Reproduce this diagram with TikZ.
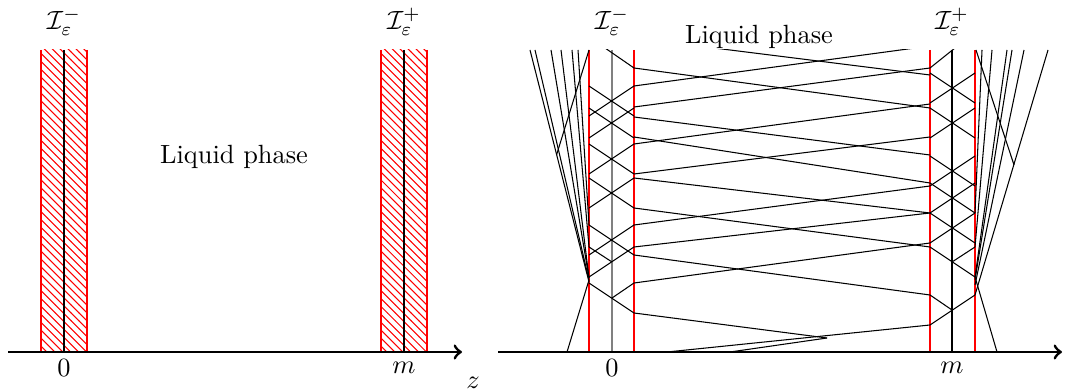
\documentclass[tikz,border=0pt]{standalone}
\usetikzlibrary{patterns}
\begin{document}
\begin{tikzpicture}[x=0.013333cm,y=-0.013333cm,
  traj/.style={black,line width=0.4pt},
  redl/.style={red,line width=0.45pt},
  axisl/.style={->,line width=1.1pt},
  hatch/.style={pattern=north west lines,pattern color=red}]
\useasboundingbox (0,0) rectangle (1065,392);
% ---------- left panel ----------
\fill[hatch] (41,50) rectangle (87,352);
\fill[hatch] (381,50) rectangle (427,352);
\foreach \x in {41,87,381,427} \draw[redl] (\x,50) -- (\x,352);
\draw[traj] (64,50) -- (64,352);
\draw[traj] (404,50) -- (404,352);
\draw[axisl] (8,352) -- (462,352);
\node (l0) at (64,368) {$0$};
\node (lm) at (404,368) {$m$};
\node (lz) at (473,383) {$z$};
\node (lim) at (64,22) {$\mathcal{I}_\varepsilon^-$};
\node (lip) at (404,22) {$\mathcal{I}_\varepsilon^+$};
\node (lliq) at (234,157) {Liquid phase};
% ---------- right panel ----------
\foreach \x in {589,634,930,975} \draw[redl] (\x,50) -- (\x,352);
\draw[gray,line width=0.8pt] (612,50) -- (612,352);
\draw[traj] (952,50) -- (952,352);
\begin{scope}
\clip (498,50) rectangle (1062,352);
% crossings inside the interface bands
\draw[traj] (605,48) -- (634,68);
\foreach \c in {101,123,159,193,240}
  \draw[traj] (589,\c-15) -- (634,\c+15) (589,\c+15) -- (634,\c-15);
\draw[traj] (589,277) -- (634,247) (589,247) -- (612,262);
\draw[traj] (589,283) -- (634,313) (634,283) -- (612,298);
\draw[traj] (955,48) -- (930,68);
\foreach \c in {88,123,171,198,228}
  \draw[traj] (930,\c-15) -- (975,\c+15) (930,\c+15) -- (975,\c-15);
\draw[traj] (975,277) -- (930,247) (975,247) -- (952,262);
\draw[traj] (975,295) -- (930,325) (930,295) -- (952,310);
% liquid trajectories
\foreach \a/\b in {38/75,68/108,86/46,107/68,117/155,137/183,144/104,174/137,
                   178/213,208/247,225/186,247/213,255/295,283/243}
  \draw[traj] (634,\a) -- (930,\b);
\draw[traj] (634,313) -- (827,338);
\draw[traj] (667,352) -- (930,325);
\draw[traj] (730,352) -- (827,338);
% outside trajectories (left)
\foreach \a/\b in {282/530,280/535,278/551,278/561,247/572,225/578}
  \draw[traj] (589,\a) -- (\b,50);
\draw[traj] (567,352) -- (589,280);
\draw[traj] (589,50) -- (556.5,155);
% outside trajectories (right)
\foreach \a/\b in {213/982,247/992,277/1007,280/1012,285/1024,295/1048}
  \draw[traj] (975,\a) -- (\b,50);
\draw[traj] (997,352) -- (975,277);
\draw[traj] (976,50) -- (1014,165);
\end{scope}
\draw[axisl] (498,352) -- (1062,352);
\node (r0) at (612,368) {$0$};
\node (rm) at (952,368) {$m$};
\node (rz) at (1071,383) {$z$};
\node (rim) at (612,22) {$\mathcal{I}_\varepsilon^-$};
\node (rip) at (952,22) {$\mathcal{I}_\varepsilon^+$};
\node (rliq) at (759,37) {Liquid phase};
\end{tikzpicture}
\end{document}
